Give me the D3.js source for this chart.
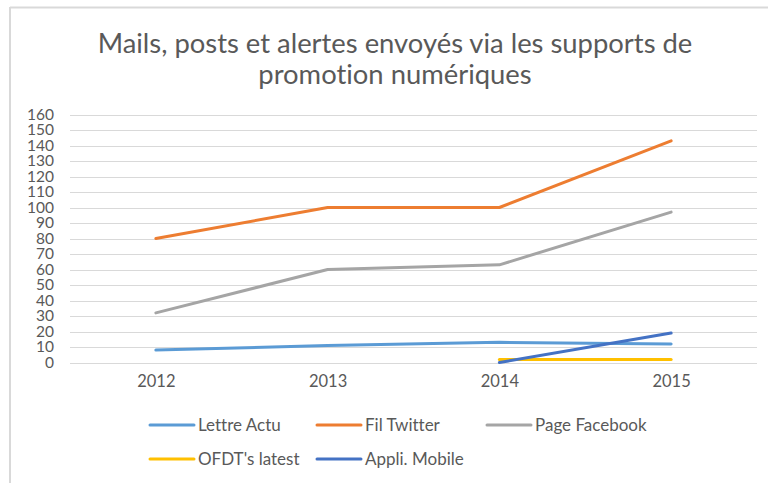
<!DOCTYPE html>
<html><head><meta charset="utf-8">
<script src="https://cdn.jsdelivr.net/npm/d3@7"></script>
<style>
html,body{margin:0;padding:0;background:#fff;}
svg{display:block;}
text{font-family:Lato,"Open Sans",sans-serif;fill:#595959;font-variant-ligatures:none;}
</style></head>
<body>
<svg id="chart" width="768" height="483"></svg>
<script>
const categories = ["2012","2013","2014","2015"];
const lettreActu = [8, 11, 13, 12];
const filTwitter = [80, 100, 100, 143];
const pageFacebook = [32, 60, 63, 97];
const ofdtLatest = [null, null, 2, 2];
const appliMobile = [null, null, 0, 19];
const seriesNames = ["Lettre Actu","Fil Twitter","Page Facebook","OFDT's latest","Appli. Mobile"];
const seriesColors = ["#5B9BD5","#ED7D31","#A5A5A5","#FFC000","#4472C4"];
const yTicks = d3.range(0, 161, 10);
const titleLines = ["Mails, posts et alertes envoyés via les supports de","promotion numériques"];

const seriesValues = [lettreActu, filTwitter, pageFacebook, ofdtLatest, appliMobile];

const svg = d3.select("#chart");

// border
svg.append("line").attr("x1",10).attr("x2",768).attr("y1",7.5).attr("y2",7.5)
  .attr("stroke","#d9d9d9").attr("stroke-width",2);
svg.append("line").attr("x1",10).attr("x2",10).attr("y1",7).attr("y2",483)
  .attr("stroke","#d9d9d9").attr("stroke-width",2);

// title
const title = svg.append("g");
const t1 = title.append("text").attr("x",395).attr("y",53).attr("text-anchor","middle")
  .style("font-size","24px").text(titleLines[0]);
const w = t1.node().getComputedTextLength();
const fs = 24 * 595 / w;
t1.style("font-size", fs + "px");
title.append("text").attr("x",395).attr("y",84).attr("text-anchor","middle")
  .style("font-size", fs + "px").text(titleLines[1]);

const x = d3.scalePoint().domain(categories).range([70, 757]).padding(0.5);
const y = d3.scaleLinear().domain([0,160]).range([362.5, 114.5]);

// gridlines
svg.append("g").selectAll("line").data(yTicks).join("line")
  .attr("x1",70).attr("x2",757)
  .attr("y1",d=>Math.round(y(d))+0.5).attr("y2",d=>Math.round(y(d))+0.5)
  .attr("stroke","#d9d9d9").attr("stroke-width",1);

// y axis
const yAxis = svg.append("g").attr("transform","translate(54,0)")
  .call(d3.axisLeft(y).tickValues(yTicks).tickSize(0).tickPadding(0));
yAxis.select(".domain").remove();
yAxis.selectAll("text").style("font-size","15.5px").style("fill","#595959")
  .style("font-family","Lato, 'Open Sans', sans-serif");

// x axis
const xAxis = svg.append("g").attr("transform","translate(0,362.5)")
  .call(d3.axisBottom(x).tickSize(0).tickPadding(13));
xAxis.select(".domain").remove();
xAxis.selectAll("text").style("font-size","16.5px").style("fill","#595959")
  .style("font-family","Lato, 'Open Sans', sans-serif");

// lines
const line = d3.line().defined(d=>d.v!==null).x(d=>x(d.c)).y(d=>y(d.v));
seriesValues.forEach((vals,i)=>{
  svg.append("path")
    .datum(vals.map((v,j)=>({c:categories[j], v:v})))
    .attr("fill","none").attr("stroke",seriesColors[i]).attr("stroke-width",3)
    .attr("stroke-linejoin","round").attr("stroke-linecap","round")
    .attr("d",line);
});

// legend
const legendPos = [[150,425],[317,425],[487,425],[150,459],[317,459]];
seriesNames.forEach((n,i)=>{
  const [lx,ly] = legendPos[i];
  const g = svg.append("g").attr("transform",`translate(${lx},${ly})`);
  g.append("line").attr("x1",0).attr("x2",44).attr("y1",0).attr("y2",0)
    .attr("stroke",seriesColors[i]).attr("stroke-width",3).attr("stroke-linecap","round");
  g.append("text").attr("x",48).attr("y",0).attr("dy","0.35em")
    .style("font-size","17px").text(n);
});
</script>
</body></html>
